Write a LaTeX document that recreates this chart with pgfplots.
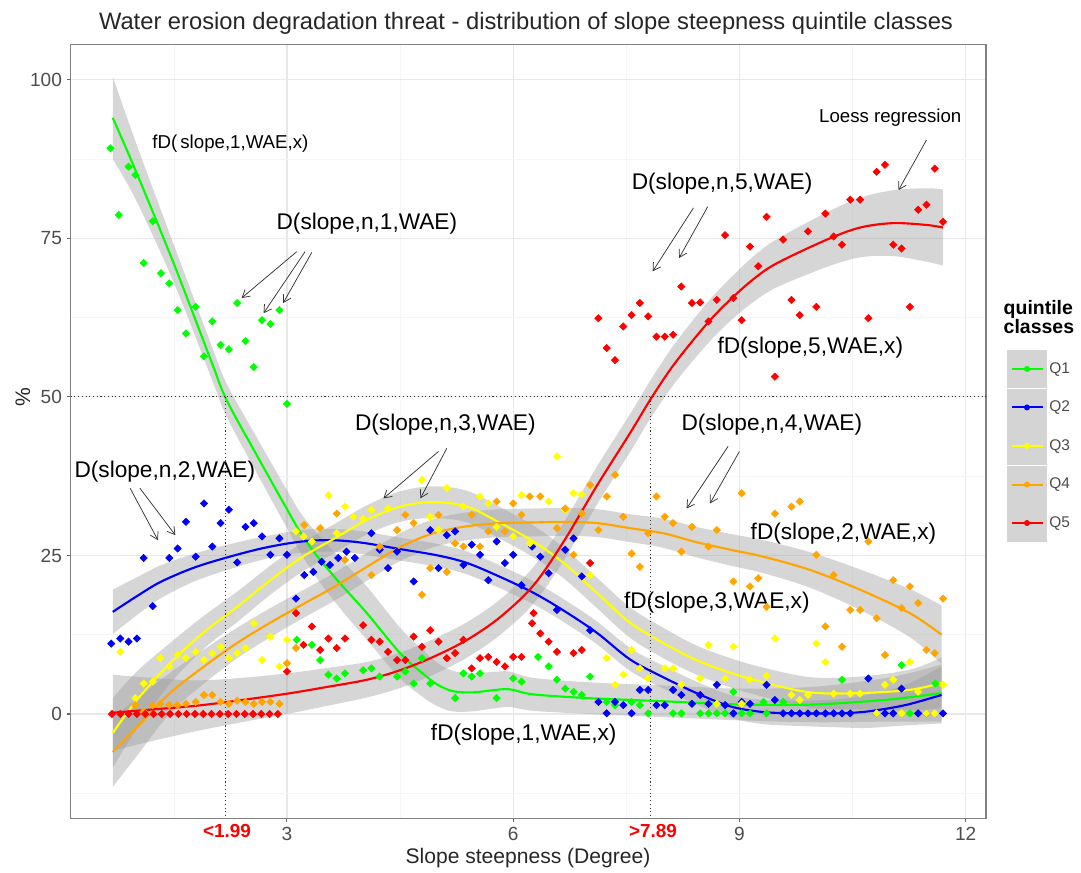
\documentclass[border=0pt]{standalone}
\usepackage{pgfplots}
\usepackage{pgfplotstable}
\pgfplotsset{compat=1.18}
\usepgfplotslibrary{fillbetween}
\usetikzlibrary{arrows.meta}
\usepackage{fontspec}
\setmainfont{Liberation Sans}
\definecolor{qg}{HTML}{00FF00}
\definecolor{qb}{HTML}{0000FF}
\definecolor{qy}{HTML}{FFFF00}
\definecolor{qo}{HTML}{FFA500}
\definecolor{qr}{HTML}{FF0000}

% smooth (loess) curves: x, fitted y, half width of band
\pgfplotstableread{
x y h
0.69 94.0 6.5
1.0 85.5 4.5
1.5 71.0 3.0
2.0 55.5 2.6
2.2 49.5 2.6
2.6 40.8 2.8
3.0 32.3 3.0
3.2 28.2 3.2
3.44 24.3 3.6
3.75 20.0 4.0
4.06 15.9 4.2
4.5 9.6 4.0
4.8 6.4 3.7
5.0 4.6 3.4
5.2 3.6 3.2
5.45 3.4 3.0
5.7 3.7 2.9
5.95 3.9 2.8
6.26 3.1 2.6
7.0 2.5 2.5
8.0 2.0 2.5
9.0 1.5 2.5
10.0 1.5 2.8
11.0 2.3 3.5
11.68 3.3 4.5
}\SmOne
\pgfplotstableread{
x y h
0.69 16.1 3.5
1.0 18.5 3.0
1.32 20.8 2.6
1.75 23.0 2.2
2.18 24.6 2.0
2.7 26.2 1.8
3.2 27.2 1.8
3.6 27.4 1.8
4.0 27.0 1.8
4.5 26.0 1.8
5.0 25.0 1.8
5.39 23.8 1.8
5.83 21.6 1.8
6.27 19.1 1.8
6.67 16.3 1.8
7.11 12.8 1.8
7.55 8.6 1.8
7.99 5.8 1.8
8.43 3.3 1.8
8.88 1.2 1.8
9.32 0.3 1.9
9.8 0.1 2.0
10.3 0.1 2.2
10.7 0.4 2.6
11.2 1.4 3.2
11.68 3.0 4.5
}\SmTwo
\pgfplotstableread{
x y h
0.69 -3.0 5.5
1.01 2.2 4.5
1.45 8.0 3.2
1.89 12.8 2.6
2.34 16.9 2.4
2.78 21.1 2.3
3.21 24.8 2.3
3.62 27.6 2.3
4.06 30.6 2.3
4.5 32.7 2.4
4.94 33.4 2.5
5.39 32.7 2.5
5.83 30.1 2.5
6.27 27.2 2.5
6.67 23.8 2.4
7.11 19.1 2.4
7.55 14.4 2.4
7.99 11.2 2.4
8.43 8.5 2.3
8.88 6.5 2.3
9.32 5.0 2.3
9.94 3.4 2.4
10.6 3.3 2.6
11.26 3.8 3.2
11.68 4.9 4.0
}\SmThree
\pgfplotstableread{
x y h
0.69 -6.0 5.5
1.01 -2.1 4.5
1.45 3.3 3.2
1.89 7.4 2.7
2.34 11.2 2.4
2.78 14.4 2.3
3.21 17.3 2.2
3.62 20.0 2.2
4.06 23.2 2.2
4.5 26.3 2.2
4.94 28.5 2.2
5.39 29.6 2.2
5.83 30.1 2.2
6.27 30.2 2.2
6.67 30.3 2.2
7.11 30.1 2.2
7.55 29.3 2.2
7.99 28.5 2.3
8.43 27.1 2.4
8.88 25.9 2.5
9.32 24.8 2.6
9.94 22.7 2.8
10.6 19.6 3.2
11.26 15.9 3.8
11.68 12.5 4.6
}\SmFour
\pgfplotstableread{
x y h
0.69 0.2 6.0
1.2 0.7 5.0
1.8 1.3 4.0
2.4 2.2 3.5
3.0 3.2 3.2
3.5 4.2 3.0
4.06 5.4 2.8
4.5 6.9 2.8
4.94 9.0 2.8
5.39 11.7 2.8
5.83 15.3 2.8
6.27 20.3 2.9
6.67 27.2 3.0
7.11 36.0 3.0
7.55 44.3 3.0
7.82 49.6 3.0
8.1 54.6 3.1
8.39 59.0 3.2
8.65 62.6 3.3
8.92 65.8 3.4
9.2 68.7 3.6
9.5 71.1 3.8
10.16 74.8 4.3
10.6 76.7 4.7
11.04 77.4 5.2
11.49 77.1 5.8
11.7 76.7 6.0
}\SmFive

% observed points
\pgfplotstableread{
x y
0.66 89.2
0.77 78.7
0.90 86.3
0.99 85.0
1.10 71.1
1.22 77.7
1.33 69.5
1.44 67.9
1.55 63.7
1.66 60.0
1.79 64.2
1.90 56.4
2.01 61.9
2.12 58.2
2.23 57.5
2.34 64.8
2.45 58.8
2.56 54.7
2.67 62.1
2.78 61.5
2.90 63.7
3.00 48.9
3.13 11.7
3.33 10.9
3.44 8.5
3.55 6.2
3.66 5.6
3.77 6.4
4.01 6.9
4.12 7.2
4.23 5.9
4.46 5.9
4.57 6.7
4.68 4.8
4.79 8.8
4.90 4.8
5.23 2.5
5.34 6.4
5.45 5.9
5.56 6.4
5.78 2.5
6.00 5.6
6.11 5.1
6.33 9.0
6.47 7.5
6.58 5.4
6.69 4.0
6.80 3.5
6.91 3.0
7.02 5.9
7.24 1.9
7.35 1.4
7.57 1.9
7.68 1.4
7.79 0.1
8.01 1.4
8.12 0.1
8.23 0.1
8.48 0.1
8.59 0.1
8.70 0.1
8.81 0.1
8.92 3.5
9.03 0.1
9.14 0.1
9.32 1.9
9.36 0.1
9.58 1.9
10.36 5.4
11.15 7.7
11.26 0.1
11.60 4.8
}\PtOne
\pgfplotstableread{
x y
0.67 11.1
0.79 11.9
0.90 11.4
1.01 11.9
1.10 24.6
1.22 17.0
1.44 24.6
1.55 26.1
1.66 30.3
1.79 24.8
1.90 33.2
2.01 26.4
2.12 30.1
2.23 32.2
2.34 23.9
2.45 29.5
2.56 30.1
2.67 28.0
2.78 25.1
2.90 27.7
3.00 25.1
3.12 18.2
3.23 21.9
3.35 22.4
3.46 24.0
3.57 23.5
3.68 24.6
3.79 25.6
3.90 24.6
4.12 28.5
4.23 25.9
4.34 23.0
4.46 25.6
4.68 20.9
4.90 29.0
5.01 23.0
5.12 28.2
5.23 28.8
5.34 23.5
5.45 26.7
5.56 25.1
5.67 21.1
5.78 27.2
5.89 23.8
6.00 25.1
6.11 20.3
6.25 26.4
6.36 24.8
6.47 22.2
6.58 16.4
6.69 25.9
6.80 27.7
6.91 21.7
7.02 13.2
7.13 1.9
7.24 0.1
7.35 1.9
7.46 1.4
7.57 0.1
7.68 3.8
7.79 3.8
7.90 1.4
8.01 1.4
8.12 3.8
8.23 3.0
8.37 1.6
8.48 3.0
8.59 1.6
8.70 4.6
8.81 1.4
8.92 0.1
9.03 1.9
9.14 1.6
9.36 4.6
9.47 2.2
9.58 0.1
9.69 0.1
9.80 0.1
9.91 0.1
10.02 0.1
10.14 0.1
10.25 0.1
10.36 0.1
10.47 0.1
10.71 5.6
10.82 0.1
10.93 0.1
11.04 0.1
11.15 4.0
11.37 0.1
11.48 0.1
11.70 0.1
}\PtTwo
\pgfplotstableread{
x y
0.79 9.8
0.99 2.5
1.10 4.8
1.22 5.1
1.32 8.8
1.44 7.5
1.55 9.3
1.66 8.8
1.79 9.8
1.90 8.5
2.01 9.6
2.12 10.6
2.23 8.8
2.34 9.6
2.45 10.4
2.56 14.3
2.67 8.5
2.78 12.2
2.90 7.5
3.00 11.7
3.12 28.8
3.22 28.0
3.33 27.2
3.55 34.5
3.66 28.5
3.77 32.7
3.88 31.1
4.01 30.8
4.12 32.2
4.34 32.4
4.79 36.9
4.90 31.1
5.01 29.0
5.12 35.6
5.34 32.7
5.56 34.3
5.67 33.2
5.78 29.5
6.00 28.0
6.11 34.5
6.22 26.9
6.47 33.5
6.58 40.6
6.69 32.2
6.80 34.8
6.91 34.6
7.02 21.9
7.24 8.8
7.35 4.6
7.46 6.2
7.57 10.1
7.68 7.2
7.79 5.6
8.01 7.2
8.12 7.2
8.23 4.6
8.48 5.6
8.59 10.9
8.70 1.6
8.81 5.6
8.92 10.6
9.03 1.6
9.14 5.4
9.36 6.0
9.47 11.9
9.69 3.0
9.80 2.2
9.91 3.0
10.02 11.1
10.14 8.2
10.25 3.2
10.47 3.2
10.60 3.2
10.82 0.1
10.93 4.6
11.04 5.4
11.15 0.1
11.26 8.2
11.37 3.5
11.48 0.1
11.59 0.1
11.70 4.6
}\PtThree
\pgfplotstableread{
x y
0.99 1.4
1.10 0.4
1.22 1.4
1.32 1.6
1.44 1.4
1.55 1.4
1.66 1.6
1.79 1.9
1.90 3.0
2.01 3.0
2.12 1.9
2.23 1.6
2.34 2.1
2.45 1.9
2.56 1.6
2.67 1.9
2.78 1.9
2.90 1.6
3.00 8.0
3.12 10.4
3.23 29.8
3.44 29.3
3.66 31.6
3.77 24.3
4.12 21.9
4.23 26.4
4.46 29.0
4.57 31.4
4.68 30.1
4.79 18.8
4.90 23.0
5.01 31.4
5.12 22.4
5.23 26.9
5.34 26.4
5.45 31.4
5.56 26.4
5.67 28.8
5.78 33.5
5.89 28.8
6.00 33.2
6.11 31.4
6.22 34.3
6.36 34.3
6.58 29.3
6.69 32.4
6.80 25.1
6.91 31.6
7.02 36.1
7.13 29.0
7.24 34.3
7.35 37.7
7.46 31.1
7.57 25.3
7.68 23.2
7.79 28.5
7.90 34.3
8.01 31.1
8.12 30.1
8.23 25.6
8.37 29.5
8.59 26.4
8.70 29.0
8.92 20.9
9.03 34.8
9.14 20.1
9.25 21.4
9.36 16.9
9.47 31.6
9.69 32.7
9.80 33.5
10.02 25.1
10.14 13.8
10.25 21.9
10.36 10.6
10.47 16.4
10.60 16.4
10.71 27.2
10.82 15.1
10.93 9.3
11.04 21.1
11.15 16.7
11.26 20.1
11.37 17.5
11.48 10.1
11.59 9.6
11.70 18.2
}\PtFour
\pgfplotstableread{
x y
0.68 0
0.79 0
0.90 0
1.01 0
1.12 0
1.23 0
1.34 0
1.45 0
1.56 0
1.67 0
1.78 0
1.89 0
2.00 0
2.11 0
2.22 0
2.33 0
2.44 0
2.55 0
2.66 0
2.77 0
2.88 0
3.00 6.7
3.12 15.9
3.22 10.9
3.33 13.8
3.44 10.1
3.55 11.9
3.66 10.4
3.77 11.9
4.01 14.0
4.12 11.7
4.23 11.4
4.34 9.8
4.46 8.5
4.57 8.5
4.68 12.2
4.79 10.6
4.90 13.2
5.01 11.4
5.12 8.8
5.23 9.6
5.34 11.7
5.45 7.2
5.56 8.8
5.67 9.0
5.78 8.2
5.89 7.5
6.00 9.0
6.11 9.0
6.25 14.3
6.27 15.9
6.36 12.7
6.47 11.4
6.58 9.8
6.80 9.6
6.91 10.1
7.02 23.8
7.13 62.4
7.24 57.7
7.35 55.8
7.46 61.1
7.57 62.9
7.68 64.8
7.79 62.7
7.90 59.5
8.01 59.5
8.12 59.8
8.23 67.4
8.37 64.8
8.48 64.9
8.59 61.9
8.70 65.3
8.81 75.5
8.92 65.6
9.03 62.1
9.14 73.7
9.25 70.6
9.36 78.4
9.47 53.2
9.58 74.8
9.69 65.3
9.80 62.9
9.91 76.1
10.02 64.2
10.14 78.9
10.25 75.3
10.36 74.0
10.47 81.1
10.60 81.1
10.71 62.4
10.82 85.5
10.93 86.6
11.04 74.0
11.15 73.4
11.26 64.2
11.37 79.5
11.48 80.3
11.59 86.0
11.70 77.6
}\PtFive

\tikzset{
  ann/.style={font=\fontsize{17}{19}\selectfont, text=black},
  arr/.style={draw=black!80, line width=0.55pt, -{Straight Barb[length=5.5pt,width=6.5pt]}}
}
\pgfplotsset{
  band/.style={fill=black!40, fill opacity=0.4, draw=none, forget plot},
  pts/.style={only marks, mark=square*, mark size=1.95pt, mark options={rotate=45, draw=none}, forget plot},
  sm/.style={smooth, tension=0.55, line width=1.6pt, no marks, forget plot},
  edge/.style={draw=none, smooth, tension=0.55, forget plot}
}

\begin{document}
\begin{tikzpicture}
\begin{scope}[x=0.75pt,y=-0.75pt]
\path[use as bounding box] (0,0) rectangle (1081,870);
\end{scope}

\begin{axis}[
  at={(52.95pt,-613.725pt)}, anchor=south west,
  scale only axis, width=686.55pt, height=580.5pt,
  xmin=0.131, xmax=12.27, ymin=-16.45, ymax=105.6,
  xtick={3,6,9,12}, ytick={0,25,50,75,100},
  minor xtick={1.5,4.5,7.5,10.5},
  minor ytick={-12.5,12.5,37.5,62.5,87.5},
  grid=both,
  major grid style={black!9, line width=0.9pt},
  minor grid style={black!4, line width=0.5pt},
  tick align=outside, major tick length=3pt, minor tick length=0pt,
  xtick pos=left, ytick pos=left,
  axis line style={black!50, line width=0.9pt},
  major tick style={black!60, line width=0.8pt},
  ticklabel style={font=\fontsize{14.3}{16}\selectfont, text=black!70},
  /pgf/number format/assume math mode=true,
  clip=false,
  legend style={at={(1.0229,0.605)}, anchor=north west, draw=none, fill=none,
    inner sep=0pt, row sep=1pt, font=\fontsize{11.6}{13}\selectfont,
    text=black!70, nodes={inner sep=2pt}},
  legend cell align=left,
]
% bands
\addplot[edge, name path=a1] table[x=x, y expr=\thisrow{y}+\thisrow{h}] {\SmOne};
\addplot[edge, name path=b1] table[x=x, y expr=\thisrow{y}-\thisrow{h}] {\SmOne};
\addplot[band] fill between[of=a1 and b1];
\addplot[edge, name path=a2] table[x=x, y expr=\thisrow{y}+\thisrow{h}] {\SmTwo};
\addplot[edge, name path=b2] table[x=x, y expr=\thisrow{y}-\thisrow{h}] {\SmTwo};
\addplot[band] fill between[of=a2 and b2];
\addplot[edge, name path=a3] table[x=x, y expr=\thisrow{y}+\thisrow{h}] {\SmThree};
\addplot[edge, name path=b3] table[x=x, y expr=\thisrow{y}-\thisrow{h}] {\SmThree};
\addplot[band] fill between[of=a3 and b3];
\addplot[edge, name path=a4] table[x=x, y expr=\thisrow{y}+\thisrow{h}] {\SmFour};
\addplot[edge, name path=b4] table[x=x, y expr=\thisrow{y}-\thisrow{h}] {\SmFour};
\addplot[band] fill between[of=a4 and b4];
\addplot[edge, name path=a5] table[x=x, y expr=\thisrow{y}+\thisrow{h}] {\SmFive};
\addplot[edge, name path=b5] table[x=x, y expr=\thisrow{y}-\thisrow{h}] {\SmFive};
\addplot[band] fill between[of=a5 and b5];

% points
\addplot[pts, color=qg] table {\PtOne};
\addplot[pts, color=qb] table {\PtTwo};
\addplot[pts, color=qy] table {\PtThree};
\addplot[pts, color=qo] table {\PtFour};
\addplot[pts, color=qr] table {\PtFive};

% loess lines
\addplot[sm, color=qg] table[x=x,y=y] {\SmOne};
\addplot[sm, color=qb] table[x=x,y=y] {\SmTwo};
\addplot[sm, color=qy] table[x=x,y=y] {\SmThree};
\addplot[sm, color=qo] table[x=x,y=y] {\SmFour};
\addplot[sm, color=qr] table[x=x,y=y] {\SmFive};

% legend
\addlegendimage{legend image code/.code={\fill[black!17] (0pt,-13.75pt) rectangle (29.25pt,13.75pt); \draw[qg, line width=1.5pt] (3pt,0pt) -- (26.25pt,0pt); \fill[qg] (14.6pt,0pt) circle (2pt);}}
\addlegendentry{Q1}
\addlegendimage{legend image code/.code={\fill[black!17] (0pt,-13.75pt) rectangle (29.25pt,13.75pt); \draw[qb, line width=1.5pt] (3pt,0pt) -- (26.25pt,0pt); \fill[qb] (14.6pt,0pt) circle (2pt);}}
\addlegendentry{Q2}
\addlegendimage{legend image code/.code={\fill[black!17] (0pt,-13.75pt) rectangle (29.25pt,13.75pt); \draw[qy, line width=1.5pt] (3pt,0pt) -- (26.25pt,0pt); \fill[qy] (14.6pt,0pt) circle (2pt);}}
\addlegendentry{Q3}
\addlegendimage{legend image code/.code={\fill[black!17] (0pt,-13.75pt) rectangle (29.25pt,13.75pt); \draw[qo, line width=1.5pt] (3pt,0pt) -- (26.25pt,0pt); \fill[qo] (14.6pt,0pt) circle (2pt);}}
\addlegendentry{Q4}
\addlegendimage{legend image code/.code={\fill[black!17] (0pt,-13.75pt) rectangle (29.25pt,13.75pt); \draw[qr, line width=1.5pt] (3pt,0pt) -- (26.25pt,0pt); \fill[qr] (14.6pt,0pt) circle (2pt);}}
\addlegendentry{Q5}

% reference lines
\draw[black!80, dotted, line width=0.8pt] (axis cs:0.131,50) -- (axis cs:12.27,50);
\draw[black!80, dotted, line width=0.8pt] (axis cs:2.18,50) -- (axis cs:2.18,-16.45);
\draw[black!80, dotted, line width=0.8pt] (axis cs:7.82,50) -- (axis cs:7.82,-16.45);

% annotations
\node[font=\fontsize{14}{16}\selectfont] at (axis cs:2.25,90.0) {fD(\,slope,1,WAE,x)};
\node[ann] at (axis cs:4.06,77.3) {D(slope,n,1,WAE)};
\draw[arr] (axis cs:3.13,72.9) -- (axis cs:2.40,65.6);
\draw[arr] (axis cs:3.24,72.9) -- (axis cs:2.69,63.2);
\draw[arr] (axis cs:3.33,72.8) -- (axis cs:2.95,64.8);

\node[ann] at (axis cs:1.38,38.2) {D(slope,n,2,WAE)};
\draw[arr] (axis cs:0.92,35.6) -- (axis cs:1.29,27.4);
\draw[arr] (axis cs:1.05,35.6) -- (axis cs:1.52,28.2);

\node[ann] at (axis cs:5.10,45.6) {D(slope,n,3,WAE)};
\draw[arr] (axis cs:5.01,41.4) -- (axis cs:4.28,34.0);
\draw[arr] (axis cs:5.12,41.9) -- (axis cs:4.77,34.0);

\node[ann] at (axis cs:9.43,45.6) {D(slope,n,4,WAE)};
\draw[arr] (axis cs:8.85,42.2) -- (axis cs:8.30,32.4);
\draw[arr] (axis cs:9.00,41.4) -- (axis cs:8.61,33.2);

\node[ann] at (axis cs:8.77,83.7) {D(slope,n,5,WAE)};
\draw[arr] (axis cs:8.39,79.8) -- (axis cs:7.85,69.8);
\draw[arr] (axis cs:8.58,80.0) -- (axis cs:8.20,71.9);

\node[font=\fontsize{14}{16}\selectfont] at (axis cs:11.0,94.0) {Loess regression};
\draw[arr] (axis cs:11.48,90.5) -- (axis cs:11.11,82.6);

\node[ann] at (axis cs:9.94,57.7) {fD(slope,5,WAE,x)};
\node[ann] at (axis cs:10.38,28.5) {fD(slope,2,WAE,x)};
\node[ann] at (axis cs:8.70,17.5) {fD(slope,3,WAE,x)};
\node[ann] at (axis cs:6.14,-3.3) {fD(slope,1,WAE,x)};
\end{axis}

\begin{scope}[x=0.75pt,y=-0.75pt]
\node[font=\fontsize{17.8}{20}\selectfont, text=black!85] at (526,23) {Water erosion degradation threat - distribution of slope steepness quintile classes};
\node[font=\fontsize{15.8}{18}\selectfont, text=black!85] at (528,858) {Slope steepness (Degree)};
\node[rotate=90, font=\fontsize{15.8}{18}\selectfont, text=black!85] at (23,397) {\%};
\node[anchor=west, align=left, font=\bfseries\fontsize{14.6}{14.3}\selectfont] at (999,317) {quintile\\classes};
\node[text=qr, font=\bfseries\fontsize{14.2}{16}\selectfont] at (227,831) {<1.99};
\node[text=qr, font=\bfseries\fontsize{14.2}{16}\selectfont] at (653,831) {>7.89};
\end{scope}
\end{tikzpicture}
\end{document}
